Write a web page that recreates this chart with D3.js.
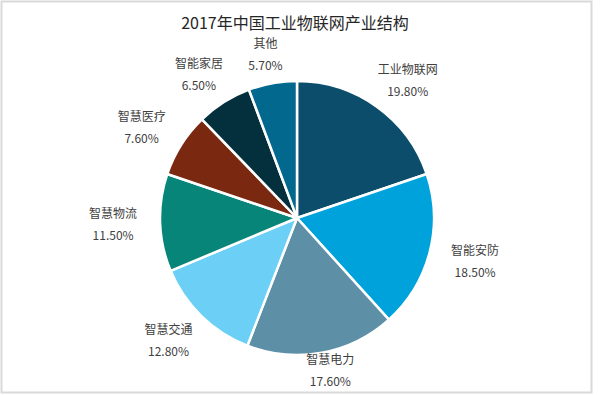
<!DOCTYPE html>
<html>
<head>
<meta charset="utf-8">
<script src="https://cdn.jsdelivr.net/npm/d3@7"></script>
<style>
  body { margin: 0; background: #fff; }
  svg { font-family: "Noto Sans CJK SC", sans-serif; }
</style>
</head>
<body>
<div id="chart"></div>
<script>
// 2017年中国工业物联网产业结构
const categories = ["工业物联网", "智能安防", "智慧电力", "智慧交通", "智慧物流", "智慧医疗", "智能家居", "其他"];
const shares = [19.8, 18.5, 17.6, 12.8, 11.5, 7.6, 6.5, 5.7];
const sliceColors = ["#0b4d6a", "#00a2dc", "#5d8fa7", "#6ccff5", "#078579", "#7a2910", "#04303e", "#03688e"];

const width = 600, height = 395;
const cx = 297, cy = 218, radius = 137;

const svg = d3.select("#chart")
  .append("svg")
    .attr("width", width)
    .attr("height", height);

// frame
svg.append("rect")
  .attr("x", 1.5).attr("y", 1.5)
  .attr("width", 590).attr("height", 391)
  .attr("fill", "#fff")
  .attr("stroke", "#d9d9d9")
  .attr("stroke-width", 2);

svg.append("text")
  .attr("x", 295)
  .attr("y", 29)
  .attr("text-anchor", "middle")
  .attr("font-size", 16)
  .attr("fill", "#262626")
  .text("2017年中国工业物联网产业结构");

const data = categories.map((c, i) => ({ name: c, value: shares[i], color: sliceColors[i] }));

const pie = d3.pie()
  .value(d => d.value)
  .sort(null);

const arc = d3.arc().innerRadius(0).outerRadius(radius);
const labelArc = d3.arc().innerRadius(160).outerRadius(160);

const g = svg.append("g").attr("transform", `translate(${cx},${cy})`);

const arcs = pie(data);

g.selectAll("path")
  .data(arcs)
  .enter()
  .append("path")
    .attr("d", arc)
    .attr("fill", d => d.data.color)
    .attr("stroke", "#fff")
    .attr("stroke-width", 2.5)
    .attr("stroke-linejoin", "round");

const labels = g.selectAll("g.label")
  .data(arcs)
  .enter()
  .append("g")
    .attr("class", "label");

labels.append("text")
  .attr("text-anchor", "middle")
  .attr("y", -6)
  .attr("font-size", 12)
  .attr("fill", "#404040")
  .text(d => d.data.name);

labels.append("text")
  .attr("text-anchor", "middle")
  .attr("y", 16)
  .attr("font-size", 12)
  .attr("fill", "#404040")
  .text(d => d.data.value.toFixed(2) + "%");

// push each label box outward from the slice, then keep it inside the frame
labels.attr("transform", function (d) {
  let w = 0;
  d3.select(this).selectAll("text").each(function () {
    w = Math.max(w, this.getComputedTextLength());
  });
  let p = labelArc.centroid(d),
      a = (d.startAngle + d.endAngle) / 2,
      x = p[0] + Math.sin(a) * w / 2,
      y = p[1] - Math.cos(a) * 10;
  let maxY = height - 25 - cy,
      minY = 54 - cy;
  if (y > maxY) { y = maxY; }
  if (y < minY) { y = minY; }
  return `translate(${x},${y})`;
});
</script>
</body>
</html>
